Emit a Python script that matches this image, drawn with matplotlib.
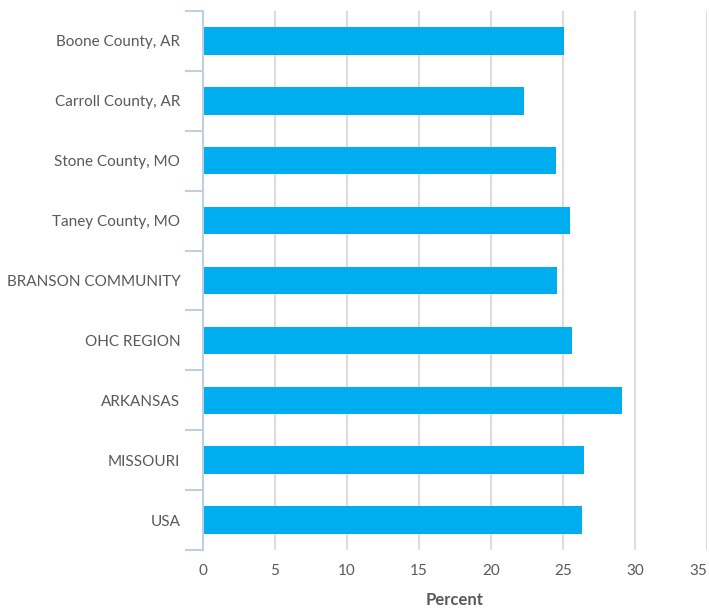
import matplotlib
matplotlib.use("Agg")
import matplotlib.pyplot as plt
import numpy as np

categories = ["Boone County, AR", "Carroll County, AR", "Stone County, MO", "Taney County, MO",
              "BRANSON COMMUNITY", "OHC REGION", "ARKANSAS", "MISSOURI", "USA"]
values = [25.1, 22.3, 24.5, 25.5, 24.6, 25.6, 29.1, 26.5, 26.3]
xticks = [0, 5, 10, 15, 20, 25, 30, 35]

plt.rcParams['font.family'] = ['Lato', 'DejaVu Sans']
text_color = "#595959"

fig = plt.figure(figsize=(7.09, 6.12), dpi=100)
ax = fig.add_axes([202.5/709, 1 - 550/612, (707 - 202.5)/709, (550 - 11)/612])

n = len(categories)
y = np.arange(n)
ax.barh(y, values, height=0.46, color="#00AEEF", zorder=3)
ax.set_ylim(n - 0.5, -0.5)
ax.set_xlim(0, 35)
ax.set_xticks(xticks)
ax.set_xticklabels([str(t) for t in xticks], fontsize=11, color=text_color)
ax.get_xticklabels()[-1].set_horizontalalignment('right')
ax.set_yticks(y)
ax.set_yticklabels(categories, fontsize=11, color=text_color)
ax.set_yticks(np.arange(-0.5, n, 1), minor=True)
ax.tick_params(axis='y', which='major', length=0, pad=16)
ax.tick_params(axis='y', which='minor', length=13, color="#BFD0E3", width=1.5)
ax.tick_params(axis='x', length=0, pad=10)

ax.grid(axis='x', color="#DDDDDD", linewidth=1.5, zorder=0)
for s in ["top", "right", "bottom"]:
    ax.spines[s].set_visible(False)
ax.spines["left"].set_color("#BFD0E3")
ax.spines["left"].set_linewidth(1.5)
ax.spines["left"].set_zorder(4)
ax.set_xlabel("Percent", fontsize=12, fontweight='bold', color=text_color, labelpad=10)

fig.savefig("out.png", dpi=100)
